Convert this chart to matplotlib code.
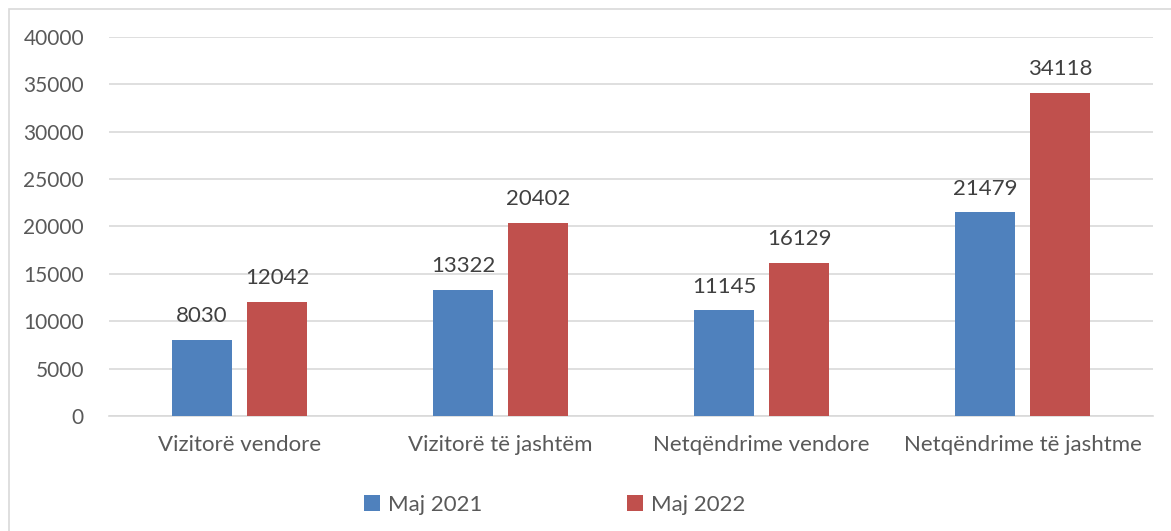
import matplotlib
matplotlib.use("Agg")
import matplotlib.pyplot as plt
import numpy as np
from matplotlib.patches import Rectangle

categories = ["Vizitorë vendore", "Vizitorë të jashtëm", "Netqëndrime vendore", "Netqëndrime të jashtme"]
series_names = ["Maj 2021", "Maj 2022"]
maj_2021 = [8030, 13322, 11145, 21479]
maj_2022 = [12042, 20402, 16129, 34118]
colors = ["#4F81BD", "#C0504D"]
yticks = [0, 5000, 10000, 15000, 20000, 25000, 30000, 35000, 40000]

plt.rcParams['font.family'] = ['Lato', 'DejaVu Sans']
txt = "#595959"
W, H = 1171, 531
fig = plt.figure(figsize=(W/100, H/100), dpi=100)
fig.patches.append(Rectangle((9/W, -0.1), 1.2, 1 - 9/H + 0.1, transform=fig.transFigure,
                             fill=False, edgecolor="#D9D9D9", linewidth=1.2))
ax = fig.add_axes([109/W, 1 - 416/H, (1153-109)/W, (416-37)/H])

x = np.arange(len(categories))
bw = 0.23
off = 0.144
handles = []
for vals, c, o, name in [(maj_2021, colors[0], -off, series_names[0]), (maj_2022, colors[1], off, series_names[1])]:
    bars = ax.bar(x + o, vals, bw, color=c, label=name, zorder=3)
    handles.append(bars)
    for b, v in zip(bars, vals):
        ax.annotate(str(v), (b.get_x() + b.get_width()/2, v), xytext=(0, 10), textcoords="offset points",
                    ha="center", va="bottom", fontsize=16, color="#404040")

ax.set_xlim(-0.5, len(categories) - 0.5)
ax.set_ylim(0, 40000)
ax.set_yticks(yticks)
ax.set_yticklabels([str(t) for t in yticks])
ax.set_xticks(x)
ax.set_xticklabels(categories)
ax.tick_params(axis='y', length=0, labelsize=15, labelcolor=txt, pad=18)
ax.tick_params(axis='x', length=0, labelsize=16, labelcolor=txt, pad=14)
ax.grid(axis='y', color="#D9D9D9", linewidth=1.2, zorder=0)
for s in ["top", "right", "left"]:
    ax.spines[s].set_visible(False)
ax.spines["bottom"].set_color("#D9D9D9")
ax.spines["bottom"].set_linewidth(1.2)

for h, name, xl in [(handles[0], series_names[0], 364), (handles[1], series_names[1], 627)]:
    leg = fig.legend([h], [name], loc="center left", bbox_to_anchor=(xl/W, 1 - 505/H), frameon=False,
                     fontsize=16, handlelength=0.7, handleheight=0.7, handletextpad=0.4,
                     borderpad=0, borderaxespad=0)
    for t in leg.get_texts():
        t.set_color(txt)

fig.savefig("out.png", dpi=100)
